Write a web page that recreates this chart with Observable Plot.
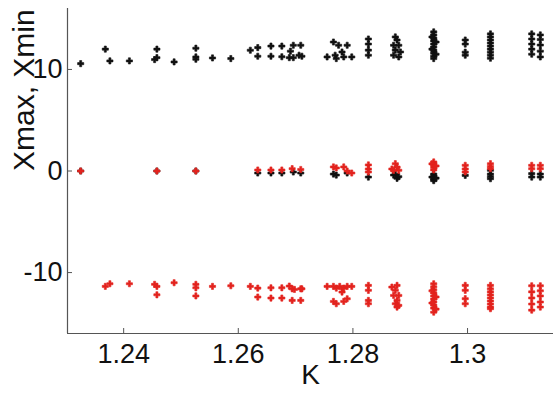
<!DOCTYPE html>
<html>
<head>
<meta charset="utf-8">
<script src="https://cdn.jsdelivr.net/npm/d3@7"></script>
<script src="https://cdn.jsdelivr.net/npm/@observablehq/plot@0.6"></script>
<style>
  html, body { margin: 0; padding: 0; background: #fff; }
</style>
</head>
<body>
<div id="chart"></div>
<script>
// Xmax points (black)
const maxK = [
  1.2325, 1.2325,
  1.2368, 1.2376, 1.2410, 1.2454,
  1.2458, 1.2458, 1.2458,
  1.2488,
  1.2526, 1.2526, 1.2526, 1.2526,
  1.2555, 1.2587, 1.2621,
  1.2634, 1.2634, 1.2634,
  1.2657, 1.2657, 1.2657,
  1.2676, 1.2676, 1.2676,
  1.2689, 1.2691,
  1.2696, 1.2696, 1.2696,
  1.2706, 1.2709, 1.2709, 1.2711,
  1.2755, 1.2766, 1.2766, 1.2769, 1.2771, 1.2771, 1.2775, 1.2781, 1.2784, 1.2790, 1.2790, 1.2798,
  1.2827, 1.2827, 1.2827, 1.2827, 1.2827,
  1.2871, 1.2871, 1.2871, 1.2874, 1.2874, 1.2874, 1.2877, 1.2877, 1.2880, 1.2880, 1.2880, 1.2883,
  1.2941, 1.2941, 1.2941, 1.2941, 1.2941, 1.2941, 1.2941, 1.2941, 1.2941, 1.2941, 1.2941, 1.2941, 1.2941, 1.2941,
  1.2938, 1.2938, 1.2938, 1.2945, 1.2945, 1.2945,
  1.2996, 1.2996, 1.2996, 1.2996, 1.2996,
  1.3040, 1.3040, 1.3040, 1.3040, 1.3040, 1.3040, 1.3040, 1.3040, 1.3040, 1.3040, 1.3040, 1.3040, 1.3040,
  1.3112, 1.3112, 1.3112, 1.3112, 1.3112, 1.3112, 1.3112,
  1.3127, 1.3127, 1.3127, 1.3127, 1.3127, 1.3127, 1.3127
];
const maxX = [
  10.57, 0.0,
  12.0, 10.84, 10.84, 10.97,
  11.16, 12.0, 0.0,
  10.74,
  12.09, 11.23, 11.0, 0.0,
  11.13, 11.07, 11.89,
  12.15, 11.3, -0.2,
  12.3, 11.3, -0.2,
  12.3, 11.25, -0.2,
  11.16, 11.8,
  12.38, 11.16, -0.1,
  11.4, 12.38, -0.2, 11.3,
  11.23, 12.7, -0.3, 11.4, 11.07, -0.4, 12.38, 11.72, 11.23, 12.38, -0.2, 11.23,
  13.0, 12.5, 11.9, 11.4, -0.6,
  12.38, 11.4, -0.4, 13.2, 11.9, -0.33, 12.9, -0.72, 12.38, 11.23, -0.56, 11.72,
  13.7, 13.4, 13.1, 12.8, 12.5, 12.2, 11.9, 11.6, 11.3, 11.07, -0.3, -0.55, -0.8, -0.95,
  13.2, 12.0, -0.6, 12.7, 11.5, -0.7,
  12.9, 12.5, 11.7, 11.4, -0.43,
  13.5, 13.2, 12.9, 12.6, 12.3, 12.0, 11.7, 11.4, 11.1, 0.07, -0.3, -0.55, -0.76,
  13.5, 13.0, 12.5, 12.0, 11.5, -0.26, -0.6,
  13.4, 12.95, 12.4, 11.8, 11.23, -0.3, -0.6
];

// Xmin points (red)
const minK = [
  1.2325,
  1.2368, 1.2376, 1.2410, 1.2454,
  1.2458, 1.2458, 1.2458,
  1.2488,
  1.2526, 1.2526, 1.2526, 1.2526,
  1.2555, 1.2587, 1.2621,
  1.2634, 1.2634, 1.2634,
  1.2657, 1.2657, 1.2657,
  1.2676, 1.2676, 1.2676,
  1.2689,
  1.2694, 1.2694, 1.2694,
  1.2698,
  1.2709, 1.2709, 1.2709,
  1.2711,
  1.2755,
  1.2766, 1.2766, 1.2766,
  1.2771, 1.2771, 1.2771,
  1.2777, 1.2781,
  1.2784, 1.2784, 1.2784,
  1.2790, 1.2790, 1.2790,
  1.2798, 1.2798,
  1.2827, 1.2827, 1.2827, 1.2827, 1.2827, 1.2827, 1.2827,
  1.2868, 1.2868,
  1.2874, 1.2874, 1.2874,
  1.2877, 1.2877, 1.2877, 1.2877,
  1.2871, 1.2871,
  1.2880, 1.2880, 1.2880,
  1.2941, 1.2941, 1.2941, 1.2941, 1.2941, 1.2941, 1.2941, 1.2941, 1.2941, 1.2941, 1.2941, 1.2941, 1.2941, 1.2941,
  1.2938, 1.2938, 1.2938, 1.2945, 1.2945, 1.2945,
  1.2996, 1.2996, 1.2996, 1.2996, 1.2996, 1.2996, 1.2996,
  1.3040, 1.3040, 1.3040, 1.3040, 1.3040, 1.3040, 1.3040, 1.3040, 1.3040, 1.3040, 1.3040, 1.3040,
  1.3112, 1.3112, 1.3112, 1.3112, 1.3112, 1.3112, 1.3112,
  1.3127, 1.3127, 1.3127, 1.3127, 1.3127, 1.3127, 1.3127
];
const minX = [
  0.0,
  -11.36, -11.1, -11.1, -11.16,
  0.0, -11.36, -12.19,
  -11.0,
  0.0, -11.16, -11.5, -12.3,
  -11.36, -11.3, -11.36,
  0.1, -11.53, -12.41,
  0.1, -11.5, -12.51,
  0.1, -11.5, -12.51,
  -11.33,
  0.23, -11.6, -12.74,
  -11.66,
  0.15, -11.6, -12.74,
  -11.6,
  -11.36,
  0.4, -11.36, -12.84,
  0.3, -11.53, -13.07,
  -11.36, -11.92,
  0.4, -11.53, -12.84,
  0.0, -11.36, -12.58,
  -0.2, -11.36,
  0.6, 0.2, -0.1, -11.26, -11.75, -12.74, -13.07,
  0.2, -11.43,
  0.72, -11.75, -13.07,
  0.39, -11.26, -12.74, -13.4,
  0.07, -12.25,
  0.07, -12.25, -13.23,
  0.89, 0.6, 0.35, 0.1, -11.1, -11.4, -11.7, -12.0, -12.3, -12.6, -12.9, -13.2, -13.5, -13.9,
  0.7, -11.8, -13.0, 0.5, -12.4, -13.6,
  0.56, 0.2, -0.1, -11.26, -11.75, -12.57, -13.07,
  0.72, 0.45, 0.23, -11.26, -11.6, -11.9, -12.2, -12.5, -12.8, -13.1, -13.4, -13.56,
  0.56, 0.23, -11.3, -11.9, -12.5, -13.1, -13.7,
  0.56, 0.23, -11.3, -11.8, -12.3, -12.9, -13.4
];

const xTicks = [1.24, 1.26, 1.28, 1.30];
const xTickLabels = ["1.24", "1.26", "1.28", "1.3"];
const yTicks = [-10, 0, 10];
const yTickLabels = ["-10", "0", "10"];
const xDomain = [1.2302, 1.315];
const yDomain = [-16, 16];
const xLabel = "K";
const yLabel = "Xmax, Xmin";

const W = 553, H = 394;
const mL = 67, mR = 0, mT = 8, mB = 61;
const plotW = W - mL - mR, plotH = H - mT - mB;
const tickLen = 5;
const axisColor = "#555";
const tickFont = "'Liberation Sans', Arial, sans-serif";
const labelFont = "'Liberation Sans', Arial, sans-serif";

const maxData = maxK.map((k, i) => ({k, v: maxX[i]}));
const minData = minK.map((k, i) => ({k, v: minX[i]}));

const chart = Plot.plot({
  width: W, height: H,
  marginLeft: mL, marginRight: mR, marginTop: mT, marginBottom: mB,
  style: {background: "#fff", color: "#111", fontFamily: tickFont, overflow: "visible"},
  x: {domain: xDomain},
  y: {domain: yDomain},
  marks: [
    Plot.ruleX([xDomain[0]], {stroke: axisColor, strokeWidth: 1.2}),
    Plot.ruleY([yDomain[0]], {stroke: axisColor, strokeWidth: 1.2}),
    Plot.ruleX(xTicks, {x: d => d, insetTop: plotH - tickLen, stroke: axisColor}),
    Plot.ruleY(yTicks, {y: d => d, insetRight: plotW - tickLen, stroke: axisColor}),
    Plot.axisX(xTicks, {tickSize: 0, tickPadding: 10, fontSize: 27, label: null,
      tickFormat: d => xTickLabels[xTicks.indexOf(d)], fill: "#111"}),
    Plot.axisY(yTicks, {tickSize: 0, tickPadding: 5, fontSize: 27, label: null,
      tickFormat: d => yTickLabels[yTicks.indexOf(d)], fill: "#111"}),
    Plot.dot(maxData, {x: "k", y: "v", symbol: "cross", r: 2.6, fill: "#111", stroke: "#111", strokeWidth: 0.6}),
    Plot.dot(minData, {x: "k", y: "v", symbol: "cross", r: 2.6, fill: "#e3231e", stroke: "#e3231e", strokeWidth: 0.6}),
    Plot.text([xLabel], {text: d => d, frameAnchor: "bottom", dy: 50, fontSize: 28, fill: "#111", fontFamily: tickFont}),
    Plot.text([yLabel], {text: d => d, frameAnchor: "left", dx: -43, rotate: -90, fontSize: 30, fill: "#111", fontFamily: labelFont})
  ]
});
document.getElementById("chart").appendChild(chart);
</script>
</body>
</html>
